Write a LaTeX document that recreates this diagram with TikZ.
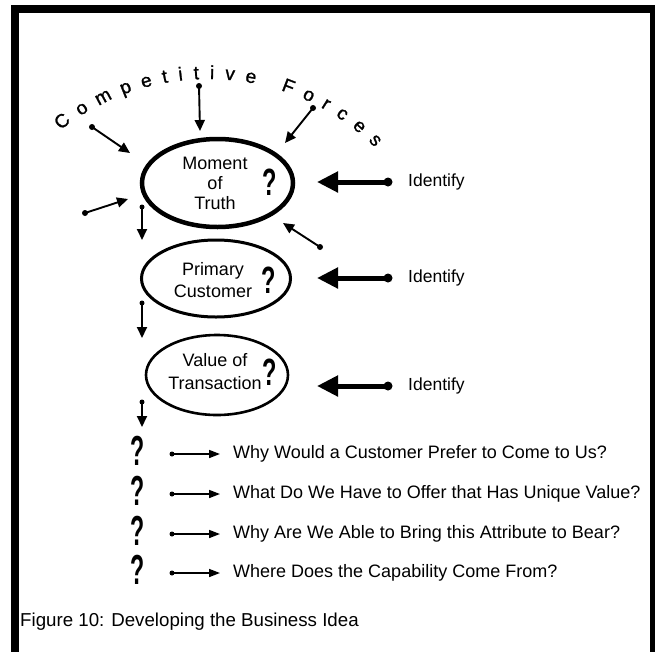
\documentclass[tikz,border=0pt]{standalone}
\usepackage{fontspec}
\setmainfont{Liberation Sans}
\newfontfamily\qmfont[FakeStretch=0.62]{Liberation Sans}
\newfontfamily\bigqmfont[FakeStretch=0.55]{Liberation Sans}
\newfontfamily\arcfont[FakeBold=1.2]{Liberation Sans}
\usetikzlibrary{arrows.meta,shapes.geometric}
\begin{document}
\begin{tikzpicture}[x=1pt,y=-1pt,
  txt/.style={font=\fontsize{18}{20}\selectfont, inner sep=0pt},
  arcl/.style={font=\arcfont\fontsize{19}{19}\selectfont, inner sep=0pt, anchor=base, text height=9pt, text depth=0pt},
  oval/.style={draw, ellipse, inner sep=0pt},
  qm/.style={font=\qmfont\bfseries\fontsize{38}{38}\selectfont, inner sep=0pt},
  bigqm/.style={font=\bigqmfont\bfseries\fontsize{42}{42}\selectfont, inner sep=0pt, anchor=base, text height=28pt, text depth=0pt},
  dotc/.style={fill, circle, inner sep=0pt, minimum size=#1},
  forcearr/.style={line width=1.9pt, -{Triangle[length=11pt,width=10pt]}},
  downarr/.style={line width=1.9pt, -{Triangle[length=11pt,width=10pt]}},
  identarr/.style={line width=5pt, -{Triangle[length=21pt,width=20pt]}},
  qarr/.style={line width=1.6pt, -{Triangle[length=11pt,width=8pt]}}
]
\useasboundingbox (0,0) rectangle (655,651);
\clip (0,0) rectangle (655,651);
\draw[line width=8pt] (15,9) rectangle (654,720);

% arc title
\foreach \ch/\ang [count=\k] in {C/126.6, o/121.14, m/115.44, p/109.73, e/104.64, t/100.17, i/96.46, t/92.74, i/89.03, v/84.82, e/79.86, F/70.8, o/65.59, r/61.01, c/56.55, e/51.59, s/46.62}
  \node[arcl, rotate={(\ang-90)*1.1}] (arc\k) at ({208+238*cos(\ang)},{317-238*sin(\ang)}) {\ch};

% ellipses
\node[oval, line width=4.5pt, minimum width=151pt, minimum height=88pt] (e1) at (217.5,183) {};
\node[txt, align=center] (t1) at (215,183) {Moment\\of\\Truth};
\node[qm] (q1) at (269.5,182) {?};

\node[oval, line width=3pt, minimum width=149pt, minimum height=77pt] (e2) at (216,278.5) {};
\node[txt, align=center, font=\fontsize{18}{22}\selectfont] (t2) at (213,280) {Primary\\Customer};
\node[qm] (q2) at (269,280) {?};

\node[oval, line width=2.6pt, minimum width=142pt, minimum height=80pt] (e3) at (217,375) {};
\node[txt, align=center, font=\fontsize{18}{23}\selectfont] (t3) at (215,372) {Value of\\Transaction};
\node[qm] (q3) at (270,372) {?};

% competitive force arrows
\foreach \i/\ax/\ay/\bx/\by in {1/199/86/200/131, 2/313/108/285/143, 3/92/127/130/153, 4/85/213/128/199, 5/320/247/283/223} {
  \node[dotc=6pt] (fa\i) at (\ax,\ay) {};
  \coordinate (fb\i) at (\bx,\by);
  \draw[forcearr] (fa\i.center) -- (fb\i);
}

% down arrows
\foreach \i/\ya/\yb in {1/207/240, 2/303/338, 3/402/427} {
  \node[dotc=5pt] (da\i) at (142,\ya) {};
  \coordinate (db\i) at (142,\yb);
  \draw[downarr] (da\i.center) -- (db\i);
}

% identify
\foreach \i/\y in {1/182, 2/278, 3/386} {
  \node[dotc=9pt] (ia\i) at (388,\y) {};
  \coordinate (ib\i) at (317,\y);
  \draw[identarr] (ia\i.center) -- (ib\i);
  \node[txt, anchor=west, font=\fontsize{17.5}{20}\selectfont] (id\i) at (408,\y) {Identify};
}

% questions
\foreach \i/\y in {1/454, 2/494, 3/534, 4/573} {
  \node[bigqm] (bq\i) at (138,\y+11) {?};
  \node[dotc=5pt] (qa\i) at (172,\y) {};
  \coordinate (qb\i) at (220,\y);
  \draw[qarr] (qa\i.center) -- (qb\i);
}
\node[txt, anchor=west] (qt1) at (233,454) {Why Would a Customer Prefer to Come to Us?};
\node[txt, anchor=west] (qt2) at (233,494) {What Do We Have to Offer that Has Unique Value?};
\node[txt, anchor=west] (qt3) at (233,534) {Why Are We Able to Bring this Attribute to Bear?};
\node[txt, anchor=west] (qt4) at (233,573) {Where Does the Capability Come From?};

\node[txt, anchor=west, font=\fontsize{18.7}{20}\selectfont] (cap) at (20,622) {Figure 10: Developing the Business Idea};
\end{tikzpicture}
\end{document}
